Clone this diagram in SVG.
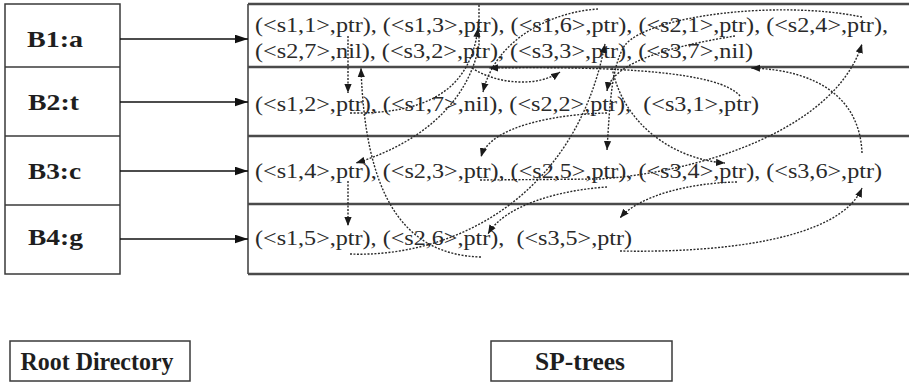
<svg xmlns="http://www.w3.org/2000/svg" width="909" height="382" viewBox="0 0 909 382">
  <defs>
    <style>
      .frame { fill: none; stroke: #3a3a3a; stroke-width: 1.5; }
      .rule { stroke: #4a4a4a; stroke-width: 2.4; }
      .lbl { font-family: "Liberation Serif", "Times New Roman", serif; font-weight: bold; font-size: 23px; fill: #1e1e1e; }
      .cap { font-family: "Liberation Serif", "Times New Roman", serif; font-weight: bold; font-size: 26px; fill: #1e1e1e; }
      .list { font-family: "Liberation Serif", "Times New Roman", serif; font-size: 20px; fill: #2a2a2a; }
      .link { fill: none; stroke: #111; stroke-width: 1.3; marker-end: url(#solid); }
      .dot { fill: none; stroke: #2a2a2a; stroke-width: 1.4; stroke-dasharray: 2 1.5; marker-end: url(#tip); }
    </style>
    <marker id="solid" viewBox="0 0 12 8" refX="12" refY="4" markerWidth="13" markerHeight="9" markerUnits="userSpaceOnUse" orient="auto">
      <path d="M0,0 L12,4 L0,8 z" fill="#111"/>
    </marker>
    <marker id="tip" viewBox="0 0 10 8" refX="10" refY="4" markerWidth="9" markerHeight="8" markerUnits="userSpaceOnUse" orient="auto">
      <path d="M0,0 L10,4 L0,8 z" fill="#1a1a1a"/>
    </marker>
  </defs>

  <rect width="909" height="382" fill="#ffffff"/>

  <!-- root directory buckets -->
  <g id="root-directory">
    <rect class="frame" x="5" y="4" width="115" height="270"/>
    <line class="frame" x1="5" y1="67" x2="120" y2="67"/>
    <line class="frame" x1="5" y1="136" x2="120" y2="136"/>
    <line class="frame" x1="5" y1="205" x2="120" y2="205"/>
  </g>
  <g id="b1"><text class="lbl" x="27" y="47" textLength="56" lengthAdjust="spacingAndGlyphs">B1:a</text></g>
  <g id="b2"><text class="lbl" x="28" y="110" textLength="51" lengthAdjust="spacingAndGlyphs">B2:t</text></g>
  <g id="b3"><text class="lbl" x="28" y="179" textLength="53" lengthAdjust="spacingAndGlyphs">B3:c</text></g>
  <g id="b4"><text class="lbl" x="28" y="245" textLength="55" lengthAdjust="spacingAndGlyphs">B4:g</text></g>

  <!-- SP-tree lists -->
  <g id="sp-trees">
    <line class="frame" x1="248" y1="4" x2="248" y2="274"/>
    <line class="rule" x1="248" y1="4" x2="909" y2="4"/>
    <line class="rule" x1="248" y1="67" x2="909" y2="67"/>
    <line class="rule" x1="248" y1="136" x2="909" y2="136"/>
    <line class="rule" x1="248" y1="204" x2="909" y2="204"/>
    <line class="rule" x1="248" y1="274" x2="909" y2="274"/>
  </g>
  <g id="list-a">
    <text class="list" x="255" y="32" textLength="633" lengthAdjust="spacingAndGlyphs">(&lt;s1,1&gt;,ptr), (&lt;s1,3&gt;,ptr), (&lt;s1,6&gt;,ptr), (&lt;s2,1&gt;,ptr), (&lt;s2,4&gt;,ptr),</text>
    <text class="list" x="255" y="58" textLength="498" lengthAdjust="spacingAndGlyphs">(&lt;s2,7&gt;,nil), (&lt;s3,2&gt;,ptr), (&lt;s3,3&gt;,ptr), (&lt;s3,7&gt;,nil)</text>
  </g>
  <g id="list-t">
    <text class="list" x="255" y="111" textLength="504" lengthAdjust="spacingAndGlyphs" xml:space="preserve">(&lt;s1,2&gt;,ptr), (&lt;s1,7&gt;,nil), (&lt;s2,2&gt;,ptr),  (&lt;s3,1&gt;,ptr)</text>
  </g>
  <g id="list-c">
    <text class="list" x="255" y="178" textLength="627" lengthAdjust="spacingAndGlyphs">(&lt;s1,4&gt;,ptr), (&lt;s2,3&gt;,ptr), (&lt;s2,5&gt;,ptr), (&lt;s3,4&gt;,ptr), (&lt;s3,6&gt;,ptr)</text>
  </g>
  <g id="list-g">
    <text class="list" x="255" y="245" textLength="377" lengthAdjust="spacingAndGlyphs" xml:space="preserve">(&lt;s1,5&gt;,ptr), (&lt;s2,6&gt;,ptr),  (&lt;s3,5&gt;,ptr)</text>
  </g>

  <!-- legend boxes -->
  <g id="legend-root">
    <rect class="frame" x="10" y="341" width="180" height="40"/>
    <text class="cap" x="97" y="370" text-anchor="middle" textLength="153" lengthAdjust="spacingAndGlyphs">Root Directory</text>
  </g>
  <g id="legend-sp">
    <rect class="frame" x="491" y="341" width="181" height="40"/>
    <text class="cap" x="580" y="370" text-anchor="middle" textLength="90" lengthAdjust="spacingAndGlyphs">SP-trees</text>
  </g>

  <!-- connectors -->
  <g id="connectors">
    <!-- bucket to list -->
    <line class="link" x1="120" y1="39" x2="248" y2="39"/>
    <line class="link" x1="120" y1="102" x2="248" y2="102"/>
    <line class="link" x1="120" y1="171" x2="248" y2="171"/>
    <line class="link" x1="120" y1="239" x2="248" y2="239"/>

    <!-- sequence s1 -->
    <path class="dot" d="M348 36 L348 93"/>
    <path class="dot" d="M350 113 C420 114, 470 95, 478 28"/>
    <path class="dot" d="M479 5 L479 45 C470 95, 430 140, 356 163"/>
    <path class="dot" d="M348 181 L348 226"/>
    <path class="dot" d="M350 254 C450 258, 575 200, 605 44"/>
    <path class="dot" d="M598 9 C550 12, 495 40, 483 92"/>

    <!-- sequence s2 -->
    <path class="dot" d="M735 36 C680 45, 612 60, 607 91"/>
    <path class="dot" d="M607 113 C560 114, 490 125, 481 157"/>
    <path class="dot" d="M480 180 L600 179 C700 172, 835 130, 862 44"/>
    <path class="dot" d="M862 17 C780 0, 650 15, 625 45 C612 65, 610 100, 607 150"/>
    <path class="dot" d="M607 187 C560 190, 505 205, 488 234"/>
    <path class="dot" d="M481 257 C400 255, 365 190, 361 68"/>

    <!-- sequence s3 -->
    <path class="dot" d="M740 96 C720 72, 620 66, 489 68"/>
    <path class="dot" d="M472 68 C500 86, 540 86, 560 72"/>
    <path class="dot" d="M612 68 C625 130, 680 160, 725 163"/>
    <path class="dot" d="M737 182 C690 183, 640 195, 620 218"/>
    <path class="dot" d="M620 251 C720 253, 840 240, 862 188"/>
    <path class="dot" d="M862 153 C860 100, 820 70, 751 68"/>
  </g>
</svg>
